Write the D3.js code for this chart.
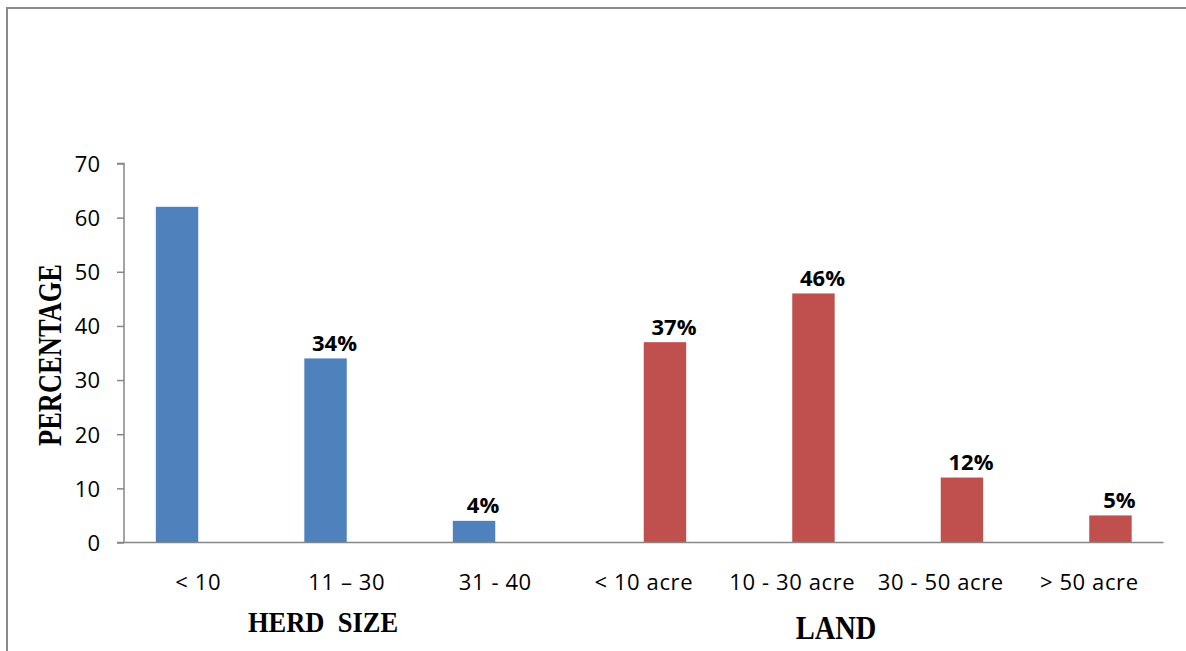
<!DOCTYPE html>
<html>
<head>
<meta charset="utf-8">
<script src="https://cdn.jsdelivr.net/npm/d3@7"></script>
<style>
  html, body { margin: 0; padding: 0; background: #fff; }
  svg { display: block; }
</style>
</head>
<body>
<svg id="chart" width="1186" height="651"></svg>
<script>
// Categories and values for the two groups
const herdCategories = ["< 10", "11 – 30", "31 - 40"];
const herdValues = [62, 34, 4];
const herdLabels = [null, "34%", "4%"];

const landCategories = ["< 10 acre", "10 - 30 acre", "30 - 50 acre", "> 50 acre"];
const landValues = [37, 46, 12, 5];
const landLabels = ["37%", "46%", "12%", "5%"];

const seriesNames = ["herd", "land"];
const yTicks = [0, 10, 20, 30, 40, 50, 60, 70];

const rows = [
  ...herdCategories.map((c, i) => ({ cat: c, value: herdValues[i], label: herdLabels[i], series: "herd" })),
  ...landCategories.map((c, i) => ({ cat: c, value: landValues[i], label: landLabels[i], series: "land" }))
];

const colors = { herd: "#4F81BD", land: "#C0504D" };

const svg = d3.select("#chart");

// outer chart-area border
svg.append("rect")
  .attr("x", 7).attr("y", 8)
  .attr("width", 1200).attr("height", 700)
  .attr("fill", "none")
  .attr("stroke", "#8a8a8a")
  .attr("stroke-width", 2);

const plot = { left: 124, right: 1163.5, top: 163.5, bottom: 542.5 };

// one band per category, two series slots inside each (clustered, 150% gap)
const x = d3.scaleBand()
  .domain(rows.map(d => d.cat))
  .range([plot.left, plot.right])
  .padding(0);

const xSub = d3.scaleBand()
  .domain(seriesNames)
  .range([0, x.bandwidth()])
  .paddingInner(0)
  .paddingOuter(0.75);

const y = d3.scaleLinear()
  .domain([0, 70])
  .range([plot.bottom, plot.top]);

const labelFont = "'Open Sans', 'Noto Sans', sans-serif";
const barX = d => x(d.cat) + xSub(d.series);

// bars
svg.append("g").selectAll("rect")
  .data(rows)
  .join("rect")
  .attr("x", barX)
  .attr("y", d => y(d.value))
  .attr("width", xSub.bandwidth())
  .attr("height", d => y(0) - y(d.value))
  .attr("fill", d => colors[d.series]);

// y axis
const yAxis = svg.append("g")
  .attr("transform", `translate(${plot.left},0)`)
  .call(d3.axisLeft(y).tickValues(yTicks).tickSize(7).tickPadding(17).tickFormat(d3.format("d")));
yAxis.select(".domain").attr("stroke", "#868686").attr("stroke-width", 1.5)
  .attr("d", `M-7,${plot.top}H0V${plot.bottom}`);
yAxis.selectAll(".tick line").attr("stroke", "#868686").attr("stroke-width", 1.5);
yAxis.selectAll(".tick text")
  .attr("fill", "#000")
  .attr("font-family", labelFont)
  .attr("font-size", 22)
  .attr("dy", "0.36em");

// x axis
const xAxis = svg.append("g")
  .attr("transform", `translate(0,${plot.bottom})`)
  .call(d3.axisBottom(x).tickSize(0));
xAxis.select(".domain").attr("stroke", "#868686").attr("stroke-width", 1.5)
  .attr("d", `M${plot.left - 7},0H${plot.right}`);
xAxis.selectAll(".tick text")
  .attr("fill", "#000")
  .attr("font-family", labelFont)
  .attr("font-size", 22)
  .attr("letter-spacing", "0.6px")
  .attr("y", 47)
  .attr("dy", 0);

// value labels
svg.append("g").selectAll("text")
  .data(rows.filter(d => d.label))
  .join("text")
  .attr("x", d => barX(d) + xSub.bandwidth() / 2 + 9)
  .attr("y", d => y(d.value) - 7.5)
  .attr("text-anchor", "middle")
  .attr("font-family", labelFont)
  .attr("font-size", 22)
  .attr("font-weight", "bold")
  .attr("fill", "#000")
  .text(d => d.label);

// axis titles
const titleFont = "'Liberation Serif', 'Times New Roman', serif";
svg.append("text")
  .attr("transform", "translate(61,355) rotate(-90) scale(1,1.24)")
  .attr("text-anchor", "middle")
  .attr("font-family", titleFont)
  .attr("font-size", 26.5)
  .attr("font-weight", "bold")
  .text("PERCENTAGE");

svg.append("text")
  .attr("transform", "translate(323,632) scale(1,1.15)")
  .attr("text-anchor", "middle")
  .attr("font-family", titleFont)
  .attr("font-size", 26.5)
  .attr("font-weight", "bold")
  .attr("xml:space", "preserve")
  .style("white-space", "pre")
  .text("HERD  SIZE");

svg.append("text")
  .attr("transform", "translate(836,639) scale(1,1.15)")
  .attr("text-anchor", "middle")
  .attr("font-family", titleFont)
  .attr("font-size", 28.5)
  .attr("font-weight", "bold")
  .text("LAND");
</script>
</body>
</html>
